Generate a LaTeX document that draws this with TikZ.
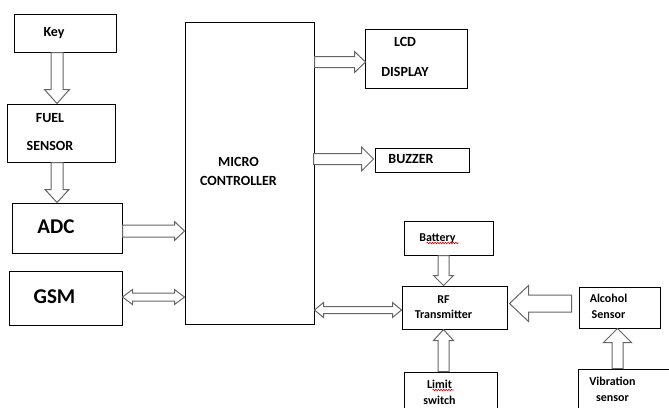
\documentclass[tikz,border=0pt]{standalone}
\usepackage{fontspec}
\setmainfont{Carlito}
\usetikzlibrary{calc,decorations.pathmorphing}

\newcommand{\boxtext}[1]{\begin{tabular}{@{}c@{}}#1\end{tabular}\hspace*{22pt}}
\newcommand{\blockarrow}[5]{%
  \draw[blockarr] let \p1=(#1), \p2=(#2), \p3=($(\p2)!#5pt!(\p1)$) in
    ($(\p1)!#3pt!90:(\p2)$) -- ($(\p3)!#3pt!90:(\p2)$) -- ($(\p3)!#4pt!90:(\p2)$)
    -- (\p2) -- ($(\p3)!#4pt!-90:(\p2)$) -- ($(\p3)!#3pt!-90:(\p2)$)
    -- ($(\p1)!#3pt!-90:(\p2)$) -- cycle;}
\newcommand{\dblockarrow}[5]{%
  \draw[blockarr] let \p1=(#1), \p2=(#2), \p3=($(\p1)!#5pt!(\p2)$), \p4=($(\p2)!#5pt!(\p1)$) in
    (\p1) -- ($(\p3)!#4pt!90:(\p2)$) -- ($(\p3)!#3pt!90:(\p2)$)
    -- ($(\p4)!#3pt!90:(\p2)$) -- ($(\p4)!#4pt!90:(\p2)$) -- (\p2)
    -- ($(\p4)!#4pt!-90:(\p2)$) -- ($(\p4)!#3pt!-90:(\p2)$)
    -- ($(\p3)!#3pt!-90:(\p2)$) -- ($(\p3)!#4pt!-90:(\p2)$) -- cycle;}

\begin{document}
\begin{tikzpicture}[x=1pt,y=-1pt,
  box/.style={draw=black,line width=1pt,inner sep=0pt,
    font=\bfseries\fontsize{14}{17}\selectfont},
  small/.style={font=\bfseries\fontsize{12}{15}\selectfont},
  big/.style={font=\bfseries\fontsize{21}{25}\selectfont},
  blockarr/.style={draw=black!60,fill=white,line width=1pt,line join=miter},
  squiggle/.style={red!85!black,line width=0.6pt,decorate,
    decoration={snake,amplitude=0.8pt,segment length=2.6pt}}]
  \useasboundingbox (0,0) rectangle (669,407);
  \clip (0,0) rectangle (669,407);
  \node[box,minimum width=102pt,minimum height=38pt] (key) at (65,33) {\boxtext{Key}};
  \node[box,minimum width=108pt,minimum height=58pt] (fuel) at (61,133) {\boxtext{FUEL\\[11pt]SENSOR}};
  \node[box,big,minimum width=110pt,minimum height=50pt] (adc) at (67,228) {\boxtext{ADC}};
  \node[box,big,minimum width=113pt,minimum height=54pt] (gsm) at (65.5,298) {\boxtext{GSM}};
  \node[box,minimum width=129pt,minimum height=302pt] (mcu) at (249.5,173) {\boxtext{MICRO\\[2pt]CONTROLLER}};
  \node[box,minimum width=102pt,minimum height=59pt] (lcd) at (416,58.5) {\boxtext{LCD\\[13pt]DISPLAY}};
  \node[box,minimum width=94pt,minimum height=24pt] (buzzer) at (422,160) {\boxtext{BUZZER}};
  \node[box,small,minimum width=89pt,minimum height=34pt] (battery) at (448.5,238) {\boxtext{Battery}};
  \node[box,small,minimum width=105pt,minimum height=43pt] (rf) at (454.5,307.5) {\boxtext{RF\\Transmitter}};
  \node[box,small,minimum width=81pt,minimum height=41pt] (alcohol) at (619.5,307.5) {\boxtext{Alcohol\\[1pt]Sensor}};
  \node[box,small,minimum width=91pt,minimum height=42pt] (vibration) at (623.5,390) {\boxtext{Vibration\\[1pt]sensor}};
  \node[box,small,minimum width=93pt,minimum height=42pt] (limit) at (450.5,393) {\boxtext{Limit\\[1pt]switch}};
  \blockarrow{$(key.south)+(-8,0)$}{$(fuel.north)+(-4,0)$}{6}{12.5}{14}
  \blockarrow{$(fuel.south)+(-4,0)$}{$(adc.north)+(-10,0)$}{6}{12}{13}
  \blockarrow{$(adc.east)+(0,3)$}{$(mcu.west)+(0,58)$}{6}{9.5}{10}
  \dblockarrow{$(gsm.east)+(0,-1)$}{$(mcu.west)+(0,124)$}{4}{7.5}{10}
  \blockarrow{$(mcu.east)+(0,-111)$}{$(lcd.west)+(1,3.5)$}{5.5}{10.5}{11}
  \blockarrow{$(mcu.east)+(-1,-14)$}{$(buzzer.west)+(-1,-1)$}{5.5}{12}{12}
  \dblockarrow{$(mcu.east)+(0,137)$}{$(rf.west)+(0,2.5)$}{3.5}{7.5}{9}
  \blockarrow{$(battery.south)+(-5,0)$}{$(rf.north)+(-11,0)$}{5.5}{10}{10}
  \blockarrow{$(limit.north)+(-7,0)$}{$(rf.south)+(-11,0)$}{5.5}{10}{11}
  \blockarrow{$(alcohol.west)+(-7,-4)$}{$(rf.east)+(2,-4)$}{8.5}{18}{19}
  \blockarrow{$(vibration.north)+(-6,0)$}{$(alcohol.south)+(-2,0)$}{5.5}{14}{14}
  \draw[squiggle] ($(battery)+(-22,5)$) -- ($(battery)+(10,5)$);
  \draw[squiggle] ($(limit)+(-18,-3)$) -- ($(limit)+(3,-3)$);
\end{tikzpicture}
\end{document}
